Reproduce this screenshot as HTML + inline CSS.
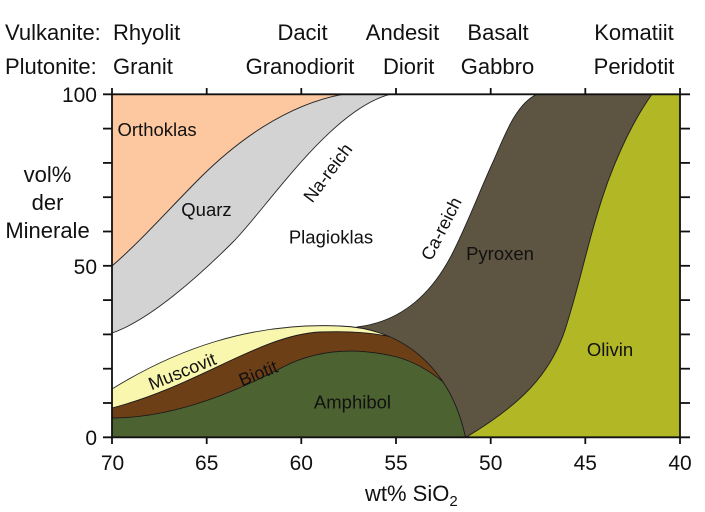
<!DOCTYPE html>
<html>
<head>
<meta charset="utf-8">
<style>
html,body{margin:0;padding:0;background:#fff;}
svg{display:block;}
text{font-family:"Liberation Sans",Arial,sans-serif;fill:#111;}
</style>
</head>
<body>
<svg width="705" height="512" viewBox="0 0 705 512" xmlns="http://www.w3.org/2000/svg">
<defs>
<clipPath id="dome">
<path d="M100,290 L340,290 L340,326 C 400,328 450,365 465.5,437.3 L100,437.3 Z"/>
</clipPath>
</defs>
<rect x="0" y="0" width="705" height="512" fill="#fff"/>

<!-- Orthoklas -->
<path d="M112,94.3 L343,94.3 C 285,105 235,143 200,178 C 170,208 140,242 112,266 Z" fill="#FDC8A0" stroke="#2a2a2a" stroke-width="0.9"/>
<!-- Quarz -->
<path d="M112,266 C 140,242 170,208 200,178 C 235,143 285,105 343,94.3 L390,94.3 C 330,110 266,209 233,242 C 200,275 150,320 112,333 Z" fill="#D3D3D3" stroke="#2a2a2a" stroke-width="0.9"/>

<!-- Pyroxen -->
<path d="M357,327 C 400,322 430,295 450,258 C 465,230 480,190 493,162 C 503,140 515,104 537,94.3 L652,94.3 C 630,125 610,170 597,215 C 585,255 578,290 565,330 C 550,375 520,405 466,437.3 L440,437.3 L345,335 Z" fill="#5E5442" stroke="#222" stroke-width="0.9"/>
<!-- Olivin -->
<path d="M652,94.3 L680,94.3 L680,437.3 L466,437.3 C 520,405 550,375 565,330 C 578,290 585,255 597,215 C 610,170 630,125 652,94.3 Z" fill="#B2B726" stroke="#222" stroke-width="0.9"/>

<g clip-path="url(#dome)">
<!-- Muscovit -->
<path d="M112,389 C 175,350 250,322 340,326 L480,300 L480,437.3 L112,437.3 Z" fill="#F9F6AE" stroke="#2a2a2a" stroke-width="0.9"/>
<!-- Biotit -->
<path d="M112,408 C 200,385 260,335 320,332 C 345,331 370,332 392,337 L480,320 L480,437.3 L112,437.3 Z" fill="#6D3F17" stroke="#1a1a1a" stroke-width="0.9"/>
<!-- Amphibol -->
<path d="M112,418 C 170,418 230,395 283,367 C 320,348 360,348 397,357 C 415,362 432,372 448,386 L480,380 L480,437.3 L112,437.3 Z" fill="#4D6231" stroke="#1a1a1a" stroke-width="0.9"/>
</g>
<path d="M340,326 C 400,328 450,365 465.5,437.3" fill="none" stroke="#1a1a1a" stroke-width="0.9"/>

<!-- Axes -->
<g stroke="#111" stroke-width="1.8" fill="none">
<line x1="112" y1="94.3" x2="112" y2="437.3"/>
<line x1="680" y1="88" x2="680" y2="444"/>
<line x1="103" y1="94.3" x2="690" y2="94.3"/>
<line x1="103" y1="437.3" x2="690" y2="437.3"/>
<!-- left ticks -->
<line x1="103" y1="128.6" x2="112" y2="128.6"/>
<line x1="103" y1="162.9" x2="112" y2="162.9"/>
<line x1="103" y1="197.2" x2="112" y2="197.2"/>
<line x1="103" y1="231.5" x2="112" y2="231.5"/>
<line x1="103" y1="265.8" x2="112" y2="265.8"/>
<line x1="103" y1="300.1" x2="112" y2="300.1"/>
<line x1="103" y1="334.4" x2="112" y2="334.4"/>
<line x1="103" y1="368.7" x2="112" y2="368.7"/>
<line x1="103" y1="403" x2="112" y2="403"/>
<!-- right ticks -->
<line x1="680" y1="128.6" x2="690" y2="128.6"/>
<line x1="680" y1="162.9" x2="690" y2="162.9"/>
<line x1="680" y1="197.2" x2="690" y2="197.2"/>
<line x1="680" y1="231.5" x2="690" y2="231.5"/>
<line x1="680" y1="265.8" x2="690" y2="265.8"/>
<line x1="680" y1="300.1" x2="690" y2="300.1"/>
<line x1="680" y1="334.4" x2="690" y2="334.4"/>
<line x1="680" y1="368.7" x2="690" y2="368.7"/>
<line x1="680" y1="403" x2="690" y2="403"/>
<!-- top ticks -->
<line x1="112" y1="88" x2="112" y2="94.3"/>
<line x1="206.7" y1="88" x2="206.7" y2="94.3"/>
<line x1="301.3" y1="88" x2="301.3" y2="94.3"/>
<line x1="396" y1="88" x2="396" y2="94.3"/>
<line x1="490.7" y1="88" x2="490.7" y2="94.3"/>
<line x1="585.3" y1="88" x2="585.3" y2="94.3"/>
<!-- bottom ticks -->
<line x1="112" y1="437.3" x2="112" y2="444"/>
<line x1="206.7" y1="437.3" x2="206.7" y2="444"/>
<line x1="301.3" y1="437.3" x2="301.3" y2="444"/>
<line x1="396" y1="437.3" x2="396" y2="444"/>
<line x1="490.7" y1="437.3" x2="490.7" y2="444"/>
<line x1="585.3" y1="437.3" x2="585.3" y2="444"/>
</g>

<!-- Top labels -->
<g font-size="22">
<text x="5" y="40">Vulkanite:</text>
<text x="5" y="74">Plutonite:</text>
<text x="113" y="40">Rhyolit</text>
<text x="113" y="74">Granit</text>
<text x="302.5" y="40" text-anchor="middle">Dacit</text>
<text x="300" y="74" text-anchor="middle">Granodiorit</text>
<text x="402.5" y="40" text-anchor="middle">Andesit</text>
<text x="408.7" y="74" text-anchor="middle">Diorit</text>
<text x="498" y="40" text-anchor="middle">Basalt</text>
<text x="497.5" y="74" text-anchor="middle">Gabbro</text>
<text x="634" y="40" text-anchor="middle">Komatiit</text>
<text x="634" y="74" text-anchor="middle">Peridotit</text>
</g>

<!-- Y labels -->
<g font-size="22" text-anchor="middle">
<text x="47.5" y="182">vol%</text>
<text x="47.5" y="210">der</text>
<text x="47.5" y="238">Minerale</text>
</g>
<g font-size="21" text-anchor="end">
<text x="97" y="102">100</text>
<text x="97" y="274">50</text>
<text x="97" y="445">0</text>
</g>

<!-- X tick labels -->
<g font-size="21" text-anchor="middle">
<text x="112.5" y="470">70</text>
<text x="206.7" y="470">65</text>
<text x="301.3" y="470">60</text>
<text x="396" y="470">55</text>
<text x="490.7" y="470">50</text>
<text x="585.3" y="470">45</text>
<text x="680" y="470">40</text>
</g>
<text x="365" y="501" font-size="22">wt% SiO<tspan font-size="15" dy="5">2</tspan></text>

<!-- Region labels -->
<g font-size="18.5">
<text x="117.5" y="136" fill="#2a1a10">Orthoklas</text>
<text x="206.5" y="216" text-anchor="middle">Quarz</text>
<text x="331" y="243.5" text-anchor="middle">Plagioklas</text>
<text x="500" y="260" text-anchor="middle">Pyroxen</text>
<text x="610" y="356" text-anchor="middle">Olivin</text>
<text x="352.5" y="408.5" text-anchor="middle">Amphibol</text>
</g>
<g font-size="18" text-anchor="middle">
<text transform="translate(327.5,172.5) rotate(-53)" y="6.5">Na-reich</text>
<text transform="translate(441,228.5) rotate(-63)" y="6.5">Ca-reich</text>
<text transform="translate(182,371) rotate(-22)" y="6.5">Muscovit</text>
<text transform="translate(258,373) rotate(-22)" y="6.5" fill="#1a0d05">Biotit</text>
</g>
</svg>
</body>
</html>
